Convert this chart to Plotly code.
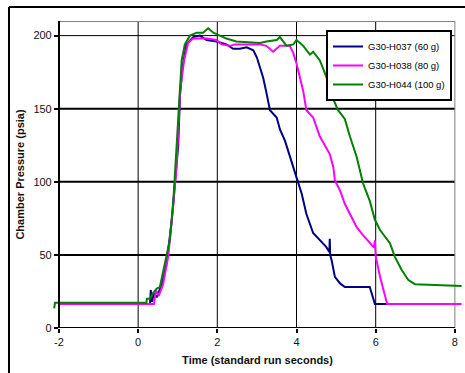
import plotly.graph_objects as go

# ---- data ----
t_h037 = [-2.0, 0.30, 0.32, 0.35, 0.40, 0.47, 0.60, 0.72, 0.85, 0.93, 1.01, 1.06, 1.12, 1.22,
          1.39, 1.56, 1.73, 1.98, 2.23, 2.40, 2.57, 2.74, 2.91, 3.00, 3.08, 3.16, 3.24, 3.33,
          3.50, 3.58, 3.71, 3.83, 4.00, 4.13, 4.25, 4.42, 4.59, 4.75, 4.83, 4.84, 4.85, 4.89,
          4.97, 5.10, 5.22, 5.85, 5.98, 6.30]
p_h037 = [16.4, 16.4, 26, 18, 24, 21, 30, 44, 74, 101, 124, 160, 178, 194,
          199, 200, 197, 196, 194, 191, 191, 192, 190, 185, 178, 171, 161, 149,
          144, 136, 128, 117, 103, 92, 78, 65, 60, 55.5, 52, 61, 50, 46,
          35, 30.5, 28, 28, 16.4, 16.4]

t_h038 = [-2.0, 0.40, 0.45, 0.52, 0.63, 0.76, 0.89, 0.97, 1.06, 1.16, 1.26, 1.39, 1.73, 1.98,
          2.11, 2.32, 2.45, 2.94, 3.08, 3.24, 3.41, 3.58, 3.83, 3.92, 4.00, 4.09, 4.17, 4.25,
          4.42, 4.59, 4.84, 4.93, 4.97, 5.10, 5.22, 5.35, 5.52, 5.68, 5.85, 5.96, 5.98, 6.00,
          6.11, 6.23, 6.29, 8.17]
p_h038 = [16.4, 16.4, 26, 22, 30, 49, 85, 110, 162, 183, 195, 198, 198, 197,
          194, 193, 194, 194, 194, 193, 189, 193, 193, 188, 181, 171, 162, 149,
          144, 131, 119, 110, 101, 94, 85, 78, 69, 63.5, 58, 55, 60, 49,
          35, 23.7, 16.4, 16.4]

t_h044 = [-2.12, -2.10, -2.0, 0.21, 0.22, 0.30, 0.38, 0.47, 0.55, 0.68, 0.80, 0.89, 0.97, 1.03,
          1.10, 1.18, 1.31, 1.48, 1.64, 1.77, 1.90, 1.98, 2.23, 2.48, 2.82, 3.08, 3.24, 3.50,
          3.58, 3.75, 3.92, 4.00, 4.17, 4.34, 4.42, 4.59, 4.76, 4.84, 5.05, 5.22, 5.35, 5.52,
          5.68, 5.85, 5.98, 6.11, 6.36, 6.48, 6.65, 6.82, 6.99, 8.17]
p_h044 = [13.4, 17.3, 17.3, 17.3, 20, 20, 24, 27, 28, 44, 60, 87, 124, 151,
          183, 194, 200, 202, 202, 205, 202, 201, 198, 196, 195.5, 195, 196, 197,
          199, 193, 194, 197, 193, 187, 189, 183, 171.5, 162, 149, 143, 131, 117,
          99, 87, 74, 67, 58, 49, 40, 33, 30, 28.7]

series_names = ["G30-H037 (60 g)", "G30-H038 (80 g)", "G30-H044 (100 g)"]
series_colors = ["#000080", "#FF00FF", "#008000"]

x_tickvals = [-2, 0, 2, 4, 6, 8]
x_ticktext = ["-2", "0", "2", "4", "6", "8"]
y_tickvals = [0, 50, 100, 150, 200]
y_ticktext = ["0", "50", "100", "150", "200"]
x_grid = [0, 2, 4, 6]
y_grid_major = [50, 100, 150]
y_grid_minor = [200]

X_MIN, X_MAX = -2, 8
Y_MIN, Y_MAX = 0, 210
X_RANGE = [-2.15, 8.18]

FONT = "Arial, Liberation Sans, sans-serif"

fig = go.Figure()
for t, p, name, col in zip([t_h037, t_h038, t_h044], [p_h037, p_h038, p_h044],
                           series_names, series_colors):
    fig.add_trace(go.Scatter(x=t, y=p, mode="lines", name=name,
                             line=dict(color=col, width=2)))

shapes = []
for gx in x_grid:
    shapes.append(dict(type="line", xref="x", yref="y", x0=gx, x1=gx, y0=Y_MIN, y1=Y_MAX,
                       line=dict(color="black", width=1), layer="below"))
for gy in y_grid_major:
    shapes.append(dict(type="line", xref="x", yref="y", x0=X_MIN, x1=X_MAX, y0=gy, y1=gy,
                       line=dict(color="black", width=2), layer="below"))
for gy in y_grid_minor:
    shapes.append(dict(type="line", xref="x", yref="y", x0=X_MIN, x1=X_MAX, y0=gy, y1=gy,
                       line=dict(color="black", width=1), layer="below"))
# plot frame: grey top and right, black bottom axis
shapes.append(dict(type="line", xref="x", yref="y", x0=X_MIN, x1=X_MAX, y0=Y_MAX, y1=Y_MAX,
                   line=dict(color="#808080", width=2), layer="below"))
shapes.append(dict(type="line", xref="x", yref="y", x0=X_MAX, x1=X_MAX, y0=Y_MIN, y1=Y_MAX,
                   line=dict(color="#808080", width=1), layer="below"))
shapes.append(dict(type="line", xref="x", yref="y", x0=X_MIN, x1=X_MAX, y0=Y_MIN, y1=Y_MIN,
                   line=dict(color="black", width=2), layer="above"))
# outer chart border (left and top visible)
shapes.append(dict(type="line", xref="paper", yref="paper", x0=-0.1076, x1=-0.1076, y0=-0.3, y1=1.0456,
                   line=dict(color="black", width=2)))
shapes.append(dict(type="line", xref="paper", yref="paper", x0=-0.1076, x1=1.2, y0=1.0456, y1=1.0456,
                   line=dict(color="black", width=2)))

W, H = 465, 373
ML, MR, MT, MB = 53, 3, 21, 45
plot_w = W - ML - MR
ypos = (X_MIN - X_RANGE[0]) / (X_RANGE[1] - X_RANGE[0])

fig.update_layout(
    width=W, height=H,
    margin=dict(l=ML, r=MR, t=MT, b=MB, pad=0),
    paper_bgcolor="white", plot_bgcolor="white",
    font=dict(family=FONT, color="#111111", size=11),
    shapes=shapes,
    showlegend=True,
    legend=dict(x=(452 - ML) / plot_w, xanchor="right", y=(328 - 30) / (H - MT - MB), yanchor="top",
                bgcolor="white", bordercolor="black", borderwidth=2,
                font=dict(family=FONT, size=9.5, color="black"),
                tracegroupgap=0, itemwidth=30),
    xaxis=dict(range=X_RANGE, tickmode="array", tickvals=x_tickvals, ticktext=x_ticktext,
               showgrid=False, zeroline=False, showline=False,
               ticks="outside", ticklen=4, tickwidth=1.5, tickcolor="black",
               tickfont=dict(size=11, family=FONT, color="#111111"),
               title=dict(text="<b>Time (standard run seconds)</b>", standoff=9,
                          font=dict(size=11, family=FONT, color="#111111"))),
    yaxis=dict(range=[Y_MIN, Y_MAX], tickmode="array", tickvals=y_tickvals, ticktext=y_ticktext,
               anchor="free", position=ypos,
               showgrid=False, zeroline=False, showline=True, linecolor="black", linewidth=2,
               ticks="outside", ticklen=4, tickwidth=1.5, tickcolor="black",
               tickfont=dict(size=11, family=FONT, color="#111111"),
               title=dict(text="<b>Chamber Pressure (psia)</b>", standoff=6,
                          font=dict(size=11, family=FONT, color="#111111"))),
)

fig.write_html("out.html")
